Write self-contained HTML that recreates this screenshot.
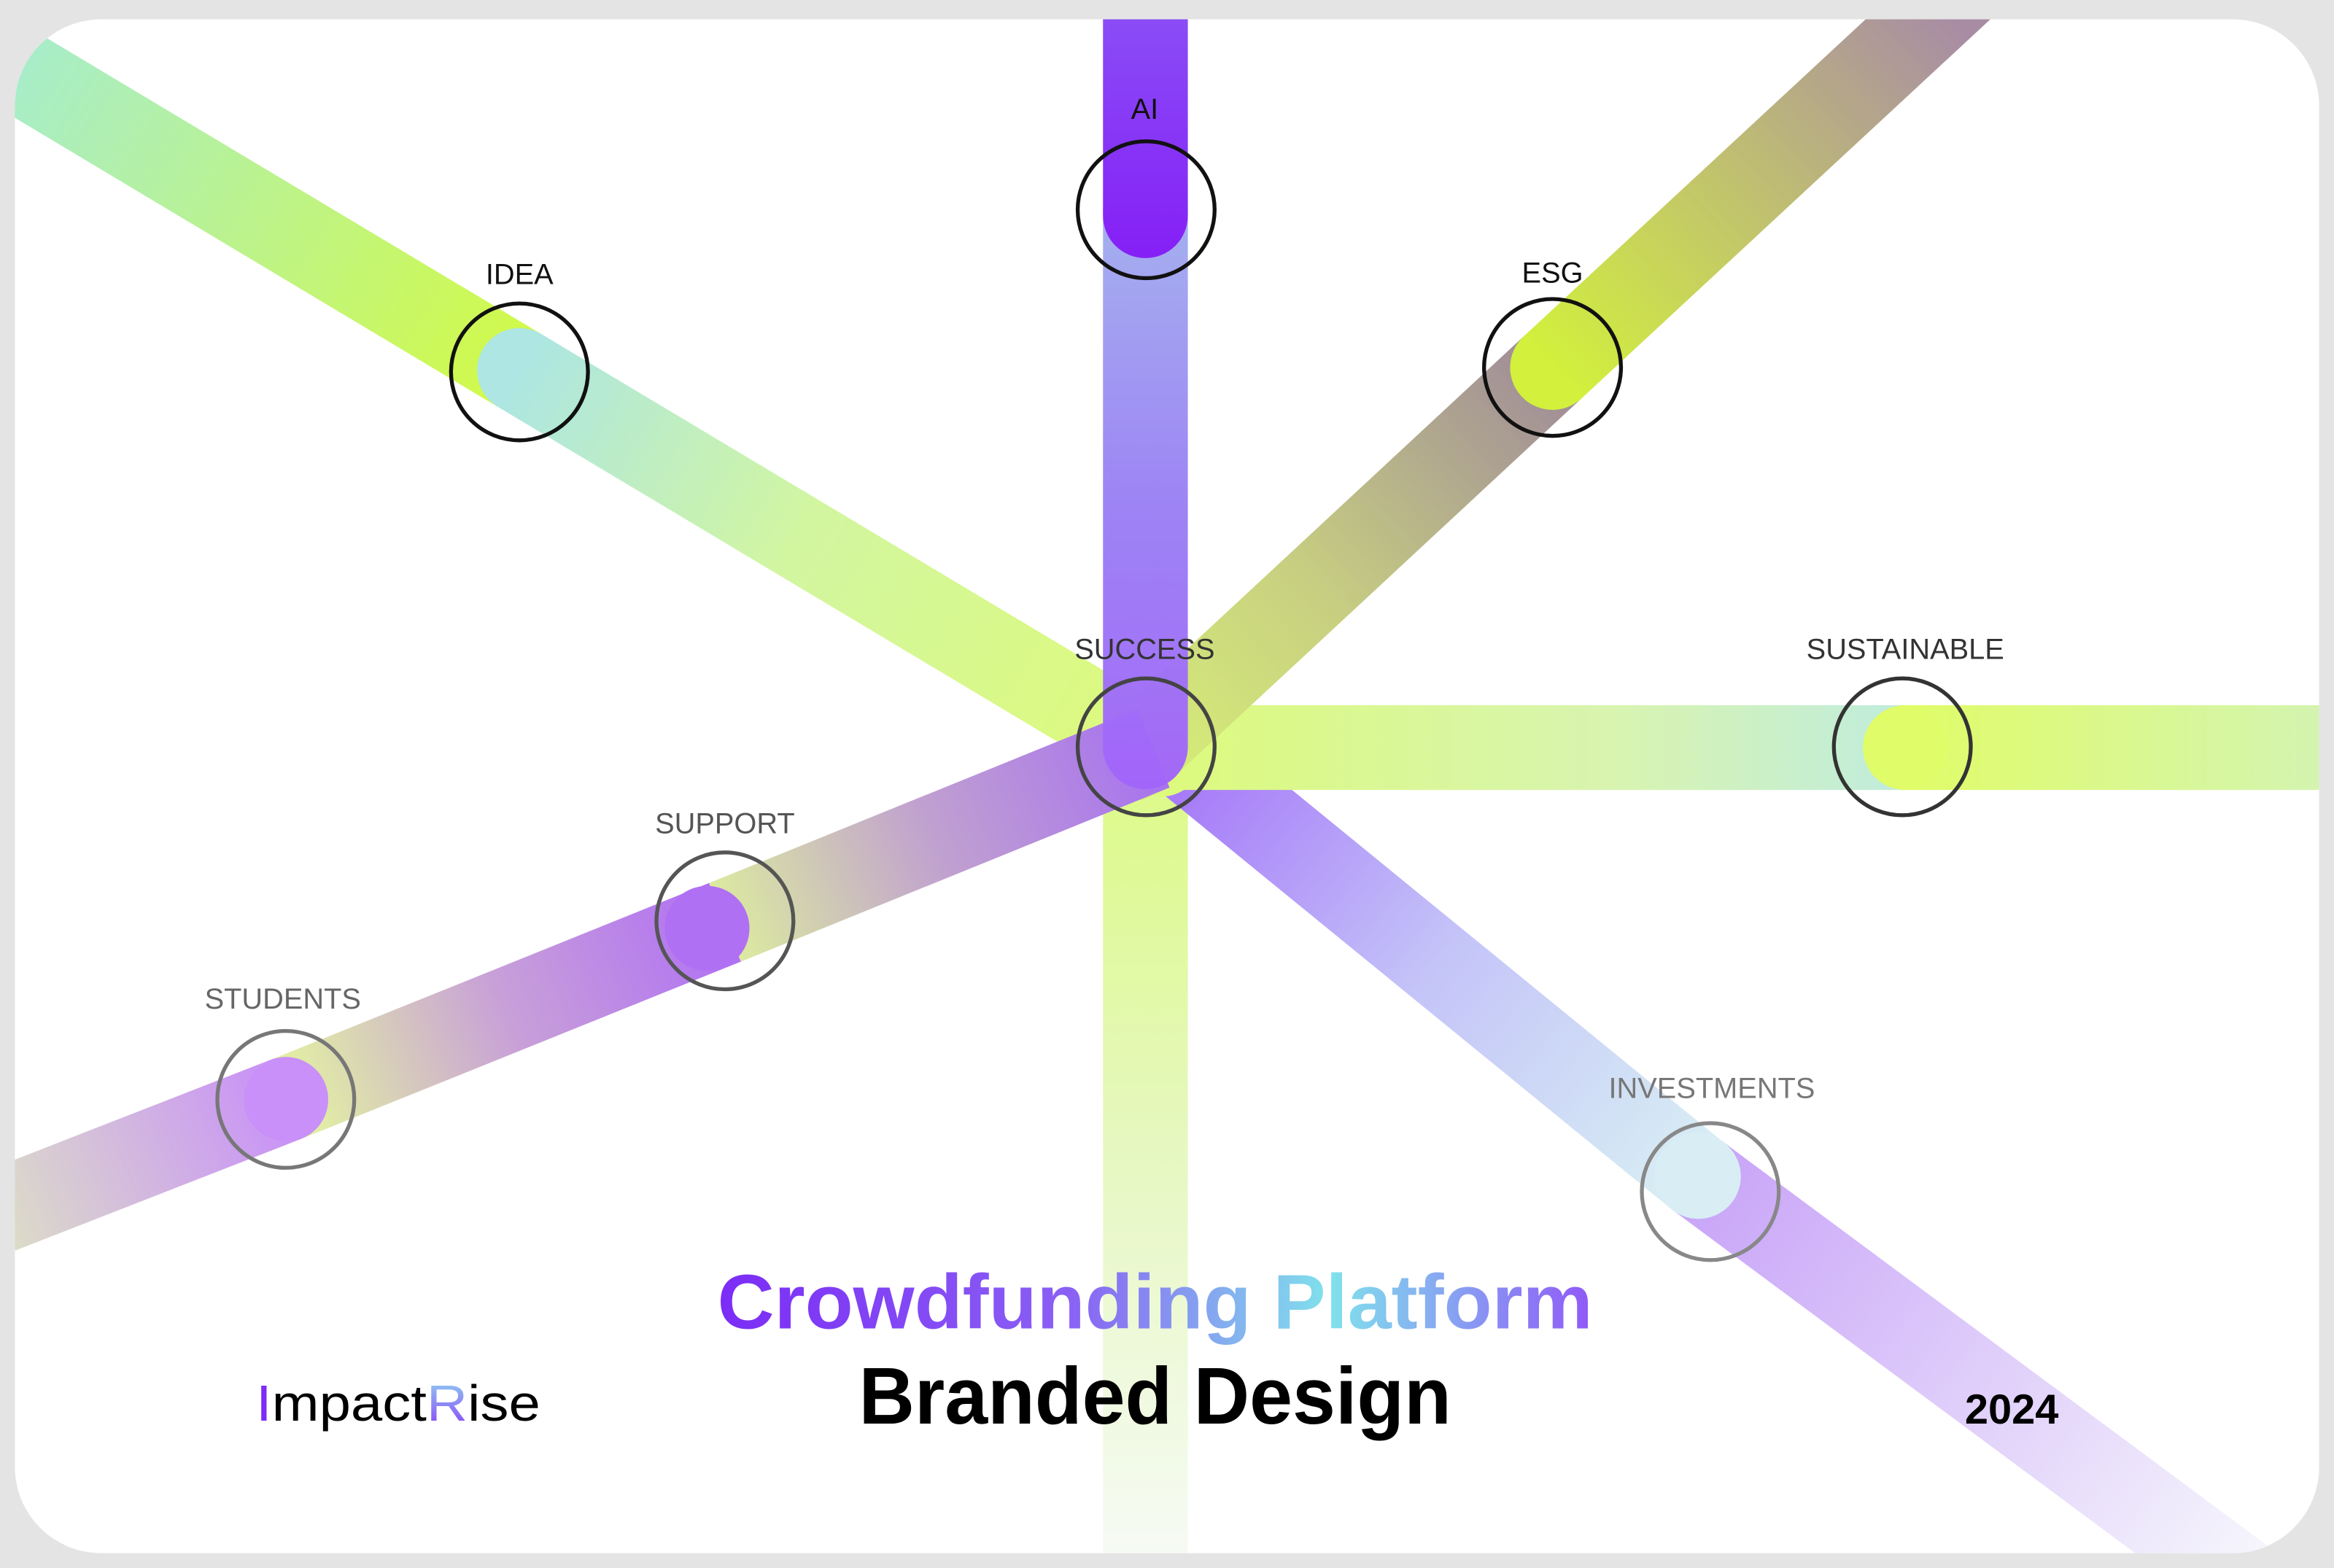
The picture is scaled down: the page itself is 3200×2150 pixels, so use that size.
<!DOCTYPE html>
<html><head><meta charset="utf-8"><style>
html,body{margin:0;padding:0;background:#e4e4e4;}
svg{display:block;}
text{font-family:"Liberation Sans",sans-serif;}
</style></head><body>
<svg width="3200" height="2150" viewBox="0 0 1568 1054" preserveAspectRatio="none" xmlns="http://www.w3.org/2000/svg">
<defs>
<clipPath id="card"><rect x="10" y="13" width="1548" height="1031" rx="58" ry="58"/></clipPath>
<linearGradient id="gIdeaA" gradientUnits="userSpaceOnUse" x1="0" y1="40" x2="349" y2="249"><stop offset="0" stop-color="#a6ecce"/><stop offset="1" stop-color="#d2fa48"/></linearGradient>
<linearGradient id="gIdeaB" gradientUnits="userSpaceOnUse" x1="349" y1="249" x2="769" y2="500"><stop offset="0" stop-color="#ade6e2"/><stop offset="0.45" stop-color="#d2f6a0"/><stop offset="1" stop-color="#ddfa7c"/></linearGradient>
<linearGradient id="gEsgA" gradientUnits="userSpaceOnUse" x1="1300" y1="0" x2="1043" y2="247"><stop offset="0" stop-color="#a88ca4"/><stop offset="0.5" stop-color="#c0c070"/><stop offset="1" stop-color="#d2f03c"/></linearGradient>
<linearGradient id="gEsgB" gradientUnits="userSpaceOnUse" x1="1043" y1="247" x2="769" y2="500"><stop offset="0" stop-color="#a08c98"/><stop offset="0.6" stop-color="#c8d080"/><stop offset="1" stop-color="#d6ec78"/></linearGradient>
<linearGradient id="gVtop" gradientUnits="userSpaceOnUse" x1="0" y1="13" x2="0" y2="170"><stop offset="0" stop-color="#8a4cf6"/><stop offset="1" stop-color="#8520f6"/></linearGradient>
<linearGradient id="gVmid" gradientUnits="userSpaceOnUse" x1="0" y1="150" x2="0" y2="530"><stop offset="0" stop-color="#a2acee"/><stop offset="0.5" stop-color="#9a80f4"/><stop offset="1" stop-color="#a264fa"/></linearGradient>
<linearGradient id="gVbot" gradientUnits="userSpaceOnUse" x1="0" y1="500" x2="0" y2="1044"><stop offset="0" stop-color="#dcfa84"/><stop offset="0.5" stop-color="#e6f8c0"/><stop offset="1" stop-color="#f6faf4"/></linearGradient>
<linearGradient id="gSusA" gradientUnits="userSpaceOnUse" x1="798" y1="0" x2="1278" y2="0"><stop offset="0" stop-color="#dcfa80"/><stop offset="0.6" stop-color="#d8f4b0"/><stop offset="1" stop-color="#c0ecdc"/></linearGradient>
<linearGradient id="gSusB" gradientUnits="userSpaceOnUse" x1="1278" y1="0" x2="1558" y2="0"><stop offset="0" stop-color="#e0fc68"/><stop offset="1" stop-color="#d4f4b0"/></linearGradient>
<linearGradient id="gSup1" gradientUnits="userSpaceOnUse" x1="769" y1="505" x2="487" y2="620"><stop offset="0" stop-color="#a874ee"/><stop offset="0.5" stop-color="#c0a0d0"/><stop offset="1" stop-color="#dceaa0"/></linearGradient>
<linearGradient id="gSup2" gradientUnits="userSpaceOnUse" x1="487" y1="620" x2="192" y2="739"><stop offset="0" stop-color="#b070f4"/><stop offset="0.5" stop-color="#c8a0d8"/><stop offset="1" stop-color="#e4f4a0"/></linearGradient>
<linearGradient id="gSup3" gradientUnits="userSpaceOnUse" x1="192" y1="739" x2="0" y2="820"><stop offset="0" stop-color="#c890f8"/><stop offset="1" stop-color="#dcdcc8"/></linearGradient>
<linearGradient id="gInv1" gradientUnits="userSpaceOnUse" x1="790" y1="505" x2="1140" y2="790"><stop offset="0" stop-color="#a474f8"/><stop offset="0.5" stop-color="#c4c4f8"/><stop offset="1" stop-color="#d8eef4"/></linearGradient>
<linearGradient id="gInv2" gradientUnits="userSpaceOnUse" x1="1140" y1="790" x2="1510" y2="1060"><stop offset="0" stop-color="#c8a4f8"/><stop offset="1" stop-color="#f6f6fc"/></linearGradient>
<linearGradient id="gTitle" gradientUnits="userSpaceOnUse" x1="482" y1="0" x2="1070" y2="0"><stop offset="0" stop-color="#7b2cf6"/><stop offset="0.4" stop-color="#8a60f4"/><stop offset="0.7" stop-color="#80e2ec"/><stop offset="1" stop-color="#9058f8"/></linearGradient>
<linearGradient id="gR" x1="0" y1="0" x2="0" y2="1"><stop offset="0" stop-color="#90d8f4"/><stop offset="1" stop-color="#8a3cf6"/></linearGradient>
</defs>
<rect x="0" y="0" width="1568" height="1054" fill="#e4e4e4"/>
<rect x="10" y="13" width="1548" height="1031" rx="58" ry="58" fill="#ffffff"/>
<g clip-path="url(#card)">
  <rect x="741" y="490" width="57" height="560" fill="url(#gVbot)"/>
  <line x1="785" y1="500" x2="1140" y2="790" stroke="url(#gInv1)" stroke-width="57"/>
  <line x1="1140" y1="790" x2="1520" y2="1072" stroke="url(#gInv2)" stroke-width="57"/>
  <line x1="1140" y1="790" x2="1141" y2="790.8" stroke="#d8eef4" stroke-width="57" stroke-linecap="round"/>
  <line x1="-10" y1="34" x2="349" y2="249" stroke="url(#gIdeaA)" stroke-width="57"/>
  <line x1="349" y1="249" x2="780" y2="507" stroke="url(#gIdeaB)" stroke-width="57" stroke-linecap="round"/>
  <rect x="790" y="474" width="490" height="57" fill="url(#gSusA)"/>
  <rect x="1278" y="474" width="290" height="57" fill="url(#gSusB)"/>
  <circle cx="1280" cy="502.5" r="28.5" fill="#e0fc68"/>
  <line x1="1043" y1="247" x2="760" y2="510" stroke="url(#gEsgB)" stroke-width="57" stroke-linecap="round"/>
  <line x1="1320" y1="-10" x2="1043" y2="247" stroke="url(#gEsgA)" stroke-width="57" stroke-linecap="round"/>
  <line x1="0" y1="814" x2="192" y2="739" stroke="url(#gSup3)" stroke-width="57"/>
  <line x1="192" y1="739" x2="487" y2="620" stroke="url(#gSup2)" stroke-width="57" stroke-linecap="round"/>
  <circle cx="192" cy="739" r="28.5" fill="#c890f8"/>
  <line x1="487" y1="620" x2="775" y2="503" stroke="url(#gSup1)" stroke-width="57"/>
  <circle cx="475" cy="624" r="28.5" fill="#b070f4"/>
  <path d="M741 140 H798 V502 A28.5 28.5 0 0 1 741 502 Z" fill="url(#gVmid)" opacity="0.97"/>
  <path d="M741 0 H798 V145 A28.5 28.5 0 0 1 741 145 Z" fill="url(#gVtop)"/>
</g>
<g fill="none" stroke-width="2.6">
  <circle cx="770" cy="141" r="46" stroke="#111"/>
  <circle cx="349" cy="250" r="46" stroke="#111"/>
  <circle cx="1043" cy="247" r="46" stroke="#111"/>
  <circle cx="770" cy="502" r="46" stroke="#444"/>
  <circle cx="1278" cy="502" r="46" stroke="#333"/>
  <circle cx="487" cy="619" r="46" stroke="#555"/>
  <circle cx="192" cy="739" r="46" stroke="#777"/>
  <circle cx="1149" cy="801" r="46" stroke="#888"/>
</g>
<g font-size="19.5" text-anchor="middle">
  <text x="769" y="80" fill="#111">AI</text>
  <text x="349" y="191" fill="#111">IDEA</text>
  <text x="1043" y="190" fill="#111">ESG</text>
  <text x="769" y="443" fill="#333">SUCCESS</text>
  <text x="1280" y="443" fill="#333">SUSTAINABLE</text>
  <text x="487" y="560" fill="#555">SUPPORT</text>
  <text x="190" y="678" fill="#666">STUDENTS</text>
  <text x="1150" y="738" fill="#777">INVESTMENTS</text>
</g>
<text x="776" y="893" text-anchor="middle" font-size="52" font-weight="bold" fill="url(#gTitle)" textLength="588" lengthAdjust="spacingAndGlyphs">Crowdfunding Platform</text>
<text x="776" y="957" text-anchor="middle" font-size="54" font-weight="bold" fill="#000" textLength="398" lengthAdjust="spacingAndGlyphs">Branded Design</text>
<text x="172" y="955" font-size="34" fill="#000" textLength="191" lengthAdjust="spacingAndGlyphs"><tspan fill="#7b2cf6">I</tspan>mpact<tspan fill="url(#gR)">R</tspan>ise</text>
<text x="1320" y="957" font-size="28" font-weight="bold" fill="#000" textLength="63" lengthAdjust="spacingAndGlyphs">2024</text>
</svg>
</body></html>
